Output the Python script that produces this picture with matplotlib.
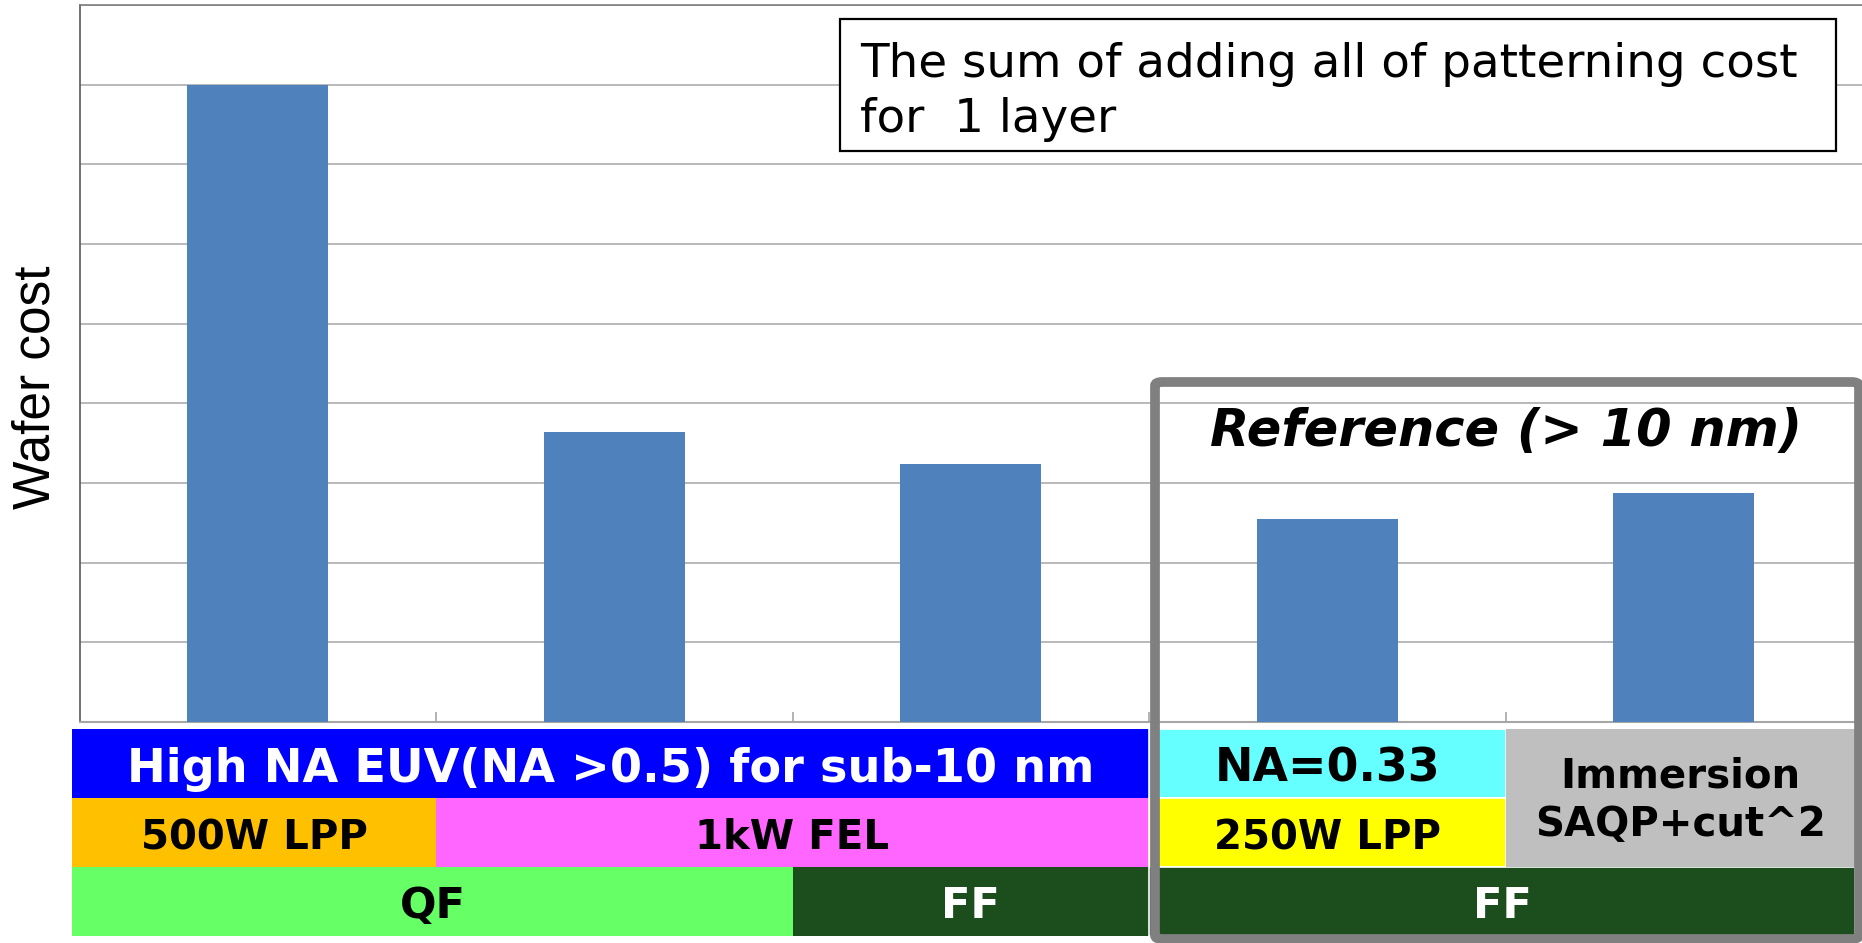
import matplotlib
matplotlib.use("Agg")
import matplotlib.pyplot as plt
from matplotlib.patches import Rectangle, FancyBboxPatch

# ---- data ----
categories = ["High NA 500W LPP QF", "High NA 1kW FEL QF", "High NA 1kW FEL FF",
              "NA=0.33 250W LPP FF", "Immersion SAQP+cut^2 FF"]
wafer_cost = [8.0, 3.64, 3.24, 2.55, 2.88]
y_label = "Wafer cost"
note_text = "The sum of adding all of patterning cost\nfor  1 layer"
reference_text = "Reference (> 10 nm)"

# table rows: (label, x_start, x_end, facecolor, textcolor, fontsize)
row_top = [("High NA EUV(NA >0.5) for sub-10 nm", -0.52, 2.5, "#0000FF", "white", 33.3),
           ("NA=0.33", 2.5, 3.5, "#66FFFF", "black", 33)]
row_mid = [("500W LPP", -0.52, 0.5, "#FFC000", "black", 29),
           ("1kW FEL", 0.5, 2.5, "#FF66FF", "black", 29),
           ("250W LPP", 2.5, 3.5, "#FFFF00", "black", 29)]
row_bot = [("QF", -0.52, 1.5, "#66FF66", "black", 31),
           ("FF", 1.5, 2.5, "#1C4D1C", "white", 31),
           ("FF", 2.5, 4.48, "#1C4D1C", "white", 31)]
span_cell = ("Immersion\nSAQP+cut^2", 3.5, 4.48, "#BFBFBF", "black", 29)

W, H = 1862, 943
fig = plt.figure(figsize=(W / 100, H / 100), dpi=100)

ax_l, ax_r = 79.5 / W, 1.0
ax = fig.add_axes([ax_l, (H - 722) / H, ax_r - ax_l, (722 - 5) / H])
x = list(range(len(categories)))
ax.bar(x, wafer_cost, width=0.395, color="#4F81BD", zorder=3)
ax.set_xlim(-0.5, 4.5)
ax.set_ylim(0, 9)
ax.set_yticks(range(0, 10))
ax.set_yticklabels([])
ax.set_xticks([])
ax.set_xticks([0.5, 1.5, 2.5, 3.5], minor=True)
ax.tick_params(axis="x", which="minor", direction="in", length=7, width=1.2, color="#A6A6A6")
ax.tick_params(axis="y", length=0)
ax.grid(axis="y", color="#A6A6A6", linewidth=1.1, zorder=0)
ax.spines["right"].set_visible(False)
ax.spines["left"].set_color("#595959")
ax.spines["left"].set_linewidth(1.2)
ax.spines["top"].set_color("#7F7F7F")
ax.spines["top"].set_linewidth(1.2)
ax.spines["bottom"].set_color("#A6A6A6")
ax.spines["bottom"].set_linewidth(1.5)

# note box
ax.add_patch(Rectangle((0.4267, 0.7964), 0.9854 - 0.4267, 0.9805 - 0.7964,
                       transform=ax.transAxes, facecolor="white", edgecolor="black",
                       linewidth=1.6, zorder=5))
ax.text(0.4378, 0.879, note_text, transform=ax.transAxes, ha="left", va="center",
        fontsize=33.7, family="DejaVu Sans", linespacing=1.3, zorder=6)

# reference label
ax.text(3.5, 3.64, reference_text, ha="center", va="center", fontsize=36.7,
        fontweight="bold", fontstyle="italic", family="DejaVu Sans", zorder=6)

fig.text(35.6 / W, 1 - 387 / H, y_label, rotation=90, ha="center", va="center",
         fontsize=37, family="Liberation Sans")

# table axes
tx = fig.add_axes([ax_l, (H - 936) / H, ax_r - ax_l, (936 - 729) / H])
tx.set_xlim(-0.5, 4.5)
tx.set_ylim(0, 3)
tx.axis("off")


def draw_cell(cell, y0, y1, edge, dy=-0.08, ls=1.15):
    label, xa, xb, fc, tc, fs = cell
    tx.add_patch(Rectangle((xa, y0), xb - xa, y1 - y0, facecolor=fc,
                           edgecolor=edge, linewidth=1.2 if edge != "none" else 0,
                           clip_on=False))
    tx.text((xa + xb) / 2, (y0 + y1) / 2 + dy, label, ha="center", va="center",
            color=tc, fontsize=fs, fontweight="bold", family="DejaVu Sans",
            linespacing=ls, clip_on=False)


for cell in row_top:
    draw_cell(cell, 2, 3, "white" if cell[1] >= 2.5 else "none")
for cell in row_mid:
    draw_cell(cell, 1, 2, "white" if cell[1] >= 2.5 else "none")
for cell in row_bot:
    draw_cell(cell, 0, 1, "white" if cell[1] >= 2.5 else "none", dy=-0.06)
draw_cell(span_cell, 1, 3, "none", dy=-0.04, ls=1.25)

# gray highlight frame around reference section
frame = FancyBboxPatch((1155 / W, 4 / H), (1859 - 1155) / W, (557) / H,
                       boxstyle="round,pad=0,rounding_size=0.004",
                       transform=fig.transFigure, facecolor="none",
                       edgecolor="#808080", linewidth=7, zorder=20)
fig.add_artist(frame)

fig.savefig("out.png", dpi=100)
